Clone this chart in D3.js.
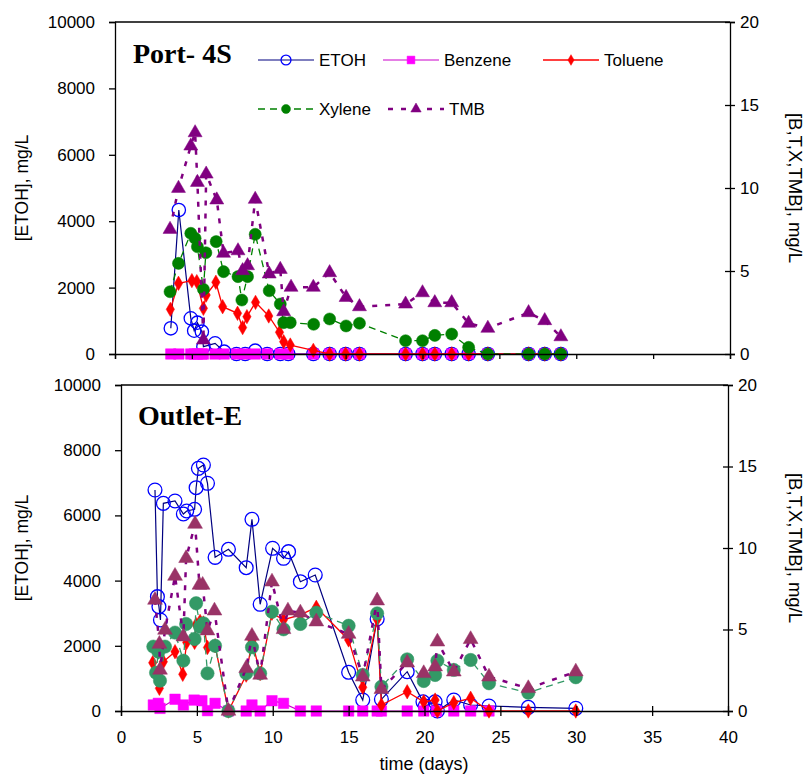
<!DOCTYPE html>
<html>
<head>
<meta charset="utf-8">
<script src="https://cdn.jsdelivr.net/npm/d3@7"></script>
<style>
  body { margin: 0; background: #fff; }
  svg { display: block; }
</style>
</head>
<body>
<div id="chart"></div>
<script>
// Sampling data: [day, value]
// ETOH in mg/L (left axis), the rest in mg/L on the right axis.
var topEtoh = [[3.63, 774], [4.15, 4337], [4.93, 1075], [5.15, 702], [5.36, 943], [5.65, 672],
    [5.75, 220], [6.51, 322], [7.1, 70], [7.9, 0], [8.47, 0], [9.12, 100], [9.9, 0], [10.75, 0],
    [11.27, 0], [12.9, 0], [13.96, 0], [15.0, 0], [15.9, 0], [18.9, 0], [20.0, 0], [20.8, 0],
    [21.9, 0], [23.0, 0], [24.25, 0], [26.9, 0], [27.95, 0], [29.0, 0]];
var topBenzene = [[3.63, 0], [4.15, 0], [4.93, 0], [5.15, 0], [5.36, 0], [5.65, 0], [5.75, 0],
    [6.51, 0], [7.1, 0], [7.9, 0], [8.47, 0], [9.12, 0], [9.9, 0], [10.75, 0], [11.27, 0],
    [12.9, 0], [13.96, 0], [15.0, 0], [15.9, 0], [18.9, 0], [20.0, 0], [20.8, 0], [21.9, 0],
    [23.0, 0], [24.25, 0], [26.9, 0], [27.95, 0], [29.0, 0]];
var topToluene = [[3.6, 2.69], [4.13, 4.26], [5.0, 4.42], [5.32, 4.36], [5.75, 2.75], [5.93, 3.55],
    [6.56, 4.32], [7.0, 2.85], [7.97, 2.45], [8.3, 1.59], [8.58, 2.25], [9.14, 3.11], [10.0, 2.29],
    [10.7, 1.31], [10.97, 0.74], [11.4, 0.54], [12.9, 0.22], [13.96, 0], [15.0, 0], [15.9, 0],
    [18.9, 0], [20.0, 0], [20.8, 0], [21.9, 0], [23.0, 0], [24.25, 0], [26.9, 0], [27.95, 0], [29.0, 0]];
var topXylene = [[3.58, 3.75], [4.13, 5.46], [4.93, 7.27], [5.21, 6.97], [5.36, 6.46], [5.75, 3.9],
    [5.91, 6.1], [6.58, 6.77], [7.06, 4.96], [8.0, 4.66], [8.25, 3.25], [8.62, 4.66], [9.12, 7.21],
    [10.03, 3.81], [10.75, 3.01], [10.97, 1.89], [11.4, 1.89], [12.92, 1.79], [13.96, 2.11],
    [15.03, 1.69], [15.9, 1.85], [18.9, 0.8], [20.0, 0.8], [20.8, 1.12], [21.9, 1.2], [23.0, 0.4],
    [24.25, 0], [26.9, 0], [27.95, 0], [29.0, 0]];
var topTmb = [[3.58, 7.51], [4.13, 9.98], [4.93, 12.53], [5.21, 13.33], [5.36, 10.34], [5.75, 0.84],
    [5.93, 10.84], [6.62, 9.28], [7.06, 6.07], [8.0, 6.22], [8.3, 5.02], [8.62, 5.32], [9.12, 9.32],
    [10.03, 4.82], [10.75, 5.1], [10.97, 2.55], [11.45, 4.02], [12.9, 4.02], [13.96, 4.9],
    [15.03, 3.41], [15.9, 2.85], [18.9, 3.01], [20.0, 3.69], [20.8, 3.09], [21.9, 3.09],
    [23.0, 1.85], [24.25, 1.55], [26.9, 2.49], [27.95, 2.01], [29.0, 1.04]];

var botEtoh = [[2.24, 6779], [2.4, 3507], [2.5, 3200], [2.6, 2791], [2.79, 6370], [3.56, 6442],
    [4.11, 6043], [4.33, 6135], [4.85, 6187], [4.95, 6850], [5.1, 7444], [5.43, 7546], [5.7, 6985],
    [6.2, 4714], [7.08, 4960], [8.25, 4396], [8.63, 5880], [9.17, 3273], [9.99, 4991], [10.71, 4684],
    [11.04, 4887], [11.82, 3966], [12.8, 4172], [15.0, 1187], [15.93, 337], [16.88, 2822],
    [17.16, 359], [18.86, 1206], [19.9, 280], [20.05, 150], [20.7, 280], [20.85, 0], [21.93, 337],
    [23.04, 184], [24.25, 153], [26.84, 113], [29.97, 83]];
var botBenzene = [[2.13, 0.37], [2.46, 0.47], [2.57, 0.16], [3.56, 0.72], [4.11, 0.37], [4.82, 0.67],
    [5.33, 0.63], [5.7, 0.02], [6.2, 0.47], [7.08, 0], [8.25, 0], [8.63, 0.37], [9.17, 0],
    [9.95, 0.63], [10.71, 0.47], [11.82, 0], [12.87, 0], [15.0, 0], [15.93, 0], [16.88, 0],
    [17.16, 0], [18.86, 0], [19.95, 0], [20.8, 0], [21.93, 0], [23.04, 0], [24.25, 0]];
var botToluene = [[2.09, 2.96], [2.53, 1.39], [2.79, 3.02], [3.56, 3.64], [4.07, 2.25], [4.33, 4.21],
    [4.85, 4.21], [4.95, 5.3], [5.21, 5.5], [5.43, 5.4], [5.7, 3.9], [6.2, 4.0], [7.08, 0],
    [8.25, 2.2], [8.63, 4.3], [9.17, 2.3], [9.95, 6.0], [10.71, 5.6], [11.82, 5.9], [12.87, 6.36],
    [15.0, 4.36], [15.93, 1.45], [16.88, 5.63], [17.16, 0.37], [18.86, 1.18], [19.95, 0.57],
    [20.7, 0.67], [20.85, 0], [21.93, 0.51], [23.04, 0.78], [24.25, 0], [26.84, 0], [29.97, 0]];
var botXylene = [[2.13, 3.95], [2.31, 2.35], [2.46, 3.64], [2.57, 1.86], [2.9, 3.95], [3.56, 4.81],
    [4.11, 3.09], [4.29, 5.34], [4.85, 4.42], [4.95, 6.61], [5.21, 5.17], [5.43, 5.38], [5.7, 2.31],
    [6.2, 4.0], [7.08, 0], [8.25, 2.31], [8.63, 3.91], [9.17, 2.31], [9.95, 6.09], [10.71, 5.01],
    [11.82, 5.34], [12.87, 6.03], [15.0, 5.23], [15.93, 2.21], [16.88, 5.99], [17.16, 1.49],
    [18.86, 3.17], [19.95, 1.84], [20.7, 2.21], [20.85, 3.09], [21.93, 2.52], [23.04, 3.13],
    [24.25, 1.7], [26.84, 1.12], [29.97, 2.07]];
var botTmb = [[2.24, 6.81], [2.53, 4.11], [2.57, 2.52], [2.9, 4.97], [3.56, 8.28], [4.11, 4.56],
    [4.29, 9.37], [4.88, 11.47], [5.17, 7.73], [5.38, 7.73], [5.7, 4.93], [6.16, 6.15], [7.08, 0],
    [8.25, 2.62], [8.63, 4.6], [9.17, 2.21], [9.95, 7.93], [10.71, 5.01], [11.0, 6.15],
    [11.82, 6.03], [12.87, 5.48], [15.0, 4.72], [15.93, 2.1], [16.88, 6.77], [17.16, 1.33],
    [18.86, 2.96], [19.95, 2.31], [20.7, 2.72], [20.85, 4.25], [21.93, 2.41], [23.04, 4.4],
    [24.25, 2.1], [26.84, 1.39], [29.97, 2.41]];

// Axis ticks
var dayTicks = [0, 5, 10, 15, 20, 25, 30, 35, 40],
    etohTicks = [0, 2000, 4000, 6000, 8000, 10000],
    btxTicks = [0, 5, 10, 15, 20];

var w = 807, h = 774,
    sans = "Liberation Sans, Arial, Helvetica, sans-serif",
    serif = "Liberation Serif, Times New Roman, serif";

var svg = d3.select("#chart").append("svg")
    .attr("width", w)
    .attr("height", h);

// Marker drawing helper, keyed by shape name
function marker(sel, shape, size, color, fill) {
    var sym = {
        circle: d3.symbolCircle,
        square: d3.symbolSquare,
        diamond: d3.symbolDiamond,
        triangle: d3.symbolTriangle
    }[shape];
    sel.attr("d", d3.symbol().type(sym).size(size))
        .attr("fill", fill)
        .attr("stroke", color)
        .attr("stroke-width", shape == "circle" && fill == "none" ? 1.3 : 0.5);
}

function panel(o) {
    var g = svg.append("g");
    var x = d3.scaleLinear().domain([0, 40]).range([o.left, o.right]);
    var yL = d3.scaleLinear().domain([0, 10000]).range([o.bottom, o.top]);
    var yR = d3.scaleLinear().domain([0, 20]).range([o.bottom, o.top]);

    // top border
    g.append("line")
        .attr("x1", o.left).attr("x2", o.right)
        .attr("y1", o.top).attr("y2", o.top)
        .attr("stroke", "#000").attr("stroke-width", 1.3);

    // series, in legend order
    o.series.forEach(function (s) {
        var y = s.axis == "left" ? yL : yR;
        var line = d3.line()
            .x(function (d) { return x(d[0]); })
            .y(function (d) { return y(d[1]); });
        g.append("path")
            .datum(s.data)
            .attr("d", line)
            .attr("fill", "none")
            .attr("stroke", s.line)
            .attr("stroke-width", s.width)
            .attr("stroke-dasharray", s.dash || null);
        g.selectAll(null)
            .data(s.data)
            .enter()
            .append("path")
            .attr("transform", function (d) {
                return "translate(" + x(d[0]) + "," + y(d[1]) + ")";
            })
            .call(marker, s.shape, s.size, s.color, s.fill);
    });

    // left axis
    var gl = g.append("g")
        .attr("transform", "translate(" + o.left + ",0)")
        .call(d3.axisLeft(yL).tickValues(etohTicks).tickSize(6).tickPadding(14).tickFormat(d3.format("d")));
    // right axis, ticks crossing the line
    var gr = g.append("g")
        .attr("transform", "translate(" + o.right + ",0)")
        .call(d3.axisRight(yR).tickValues(btxTicks).tickSize(5).tickPadding(5));
    gr.selectAll(".tick line").attr("x1", -5);
    // x axis
    var gx = g.append("g")
        .attr("transform", "translate(0," + o.bottom + ")")
        .call(d3.axisBottom(x).tickValues(dayTicks).tickSize(5).tickPadding(15));
    if (o.xLabels) {
        gx.selectAll(".tick line").attr("y1", -5);
    } else {
        gx.selectAll(".tick text").remove();
    }

    [gl, gr, gx].forEach(function (a) {
        a.selectAll("path, line").attr("stroke", "#000").attr("stroke-width", 1.3);
        a.selectAll("text").attr("font-family", sans).attr("font-size", 17).attr("fill", "#000");
    });

    var mid = (o.top + o.bottom) / 2;
    g.append("text")
        .attr("transform", "translate(28," + mid + ") rotate(-90)")
        .attr("text-anchor", "middle")
        .attr("font-family", sans).attr("font-size", 17.5)
        .text("[ETOH], mg/L");
    g.append("text")
        .attr("transform", "translate(789," + mid + ") rotate(90)")
        .attr("text-anchor", "middle")
        .attr("font-family", sans).attr("font-size", 18.5)
        .text("[B,T,X,TMB], mg/L");

    g.append("text")
        .attr("x", o.left + o.titleDx)
        .attr("y", o.top + o.titleDy)
        .attr("font-family", serif).attr("font-weight", "bold").attr("font-size", 28)
        .text(o.title);
    return x;
}

var topStyles = [
    { name: "ETOH", data: topEtoh, axis: "left", line: "#000080", width: 1.2, shape: "circle", size: 140, color: "#0000ff", fill: "none" },
    { name: "Benzene", data: topBenzene, axis: "right", line: "#cc00cc", width: 1.2, shape: "square", size: 110, color: "#ff00ff", fill: "#ff00ff" },
    { name: "Toluene", data: topToluene, axis: "right", line: "#ff0000", width: 1.3, shape: "diamond", size: 60, color: "#ff0000", fill: "#ff0000" },
    { name: "Xylene", data: topXylene, axis: "right", line: "#008000", width: 1.3, dash: "7,5", shape: "circle", size: 115, color: "#008000", fill: "#008000" },
    { name: "TMB", data: topTmb, axis: "right", line: "#800080", width: 2.5, dash: "5,8", shape: "triangle", size: 85, color: "#800080", fill: "#800080" }
];

var botStyles = [
    { data: botEtoh, axis: "left", line: "#000080", width: 1.2, shape: "circle", size: 150, color: "#0000ff", fill: "none" },
    { data: botBenzene, axis: "right", line: "#cc00cc", width: 1.2, shape: "square", size: 110, color: "#ff00ff", fill: "#ff00ff" },
    { data: botToluene, axis: "right", line: "#ff0000", width: 1.3, shape: "diamond", size: 60, color: "#ff0000", fill: "#ff0000" },
    { data: botXylene, axis: "right", line: "#339966", width: 1.3, dash: "7,5", shape: "circle", size: 140, color: "#339966", fill: "#339966" },
    { data: botTmb, axis: "right", line: "#800080", width: 2.5, dash: "5,8", shape: "triangle", size: 95, color: "#993366", fill: "#993366" }
];

panel({ left: 115, right: 730, top: 22, bottom: 354, title: "Port- 4S", titleDx: 18, titleDy: 41, xLabels: false, series: topStyles });
panel({ left: 121, right: 728, top: 385, bottom: 711, title: "Outlet-E", titleDx: 17, titleDy: 40, xLabels: true, series: botStyles });

svg.append("text")
    .attr("x", 424).attr("y", 770)
    .attr("text-anchor", "middle")
    .attr("font-family", sans).attr("font-size", 18)
    .text("time (days)");

// Legend (top panel)
var legendPos = [[258, 60], [383, 60], [543, 60], [258, 109], [388, 109]];
topStyles.forEach(function (s, i) {
    var p = legendPos[i];
    var lg = svg.append("g").attr("transform", "translate(" + p[0] + "," + p[1] + ")");
    lg.append("line")
        .attr("x1", 0).attr("x2", 56)
        .attr("stroke", s.line)
        .attr("stroke-width", s.width)
        .attr("stroke-dasharray", s.dash || null);
    lg.append("path")
        .attr("transform", "translate(28,0)")
        .call(marker, s.shape, s.size * 0.55, s.color, s.fill);
    lg.append("text")
        .attr("x", 61).attr("y", 6)
        .attr("font-family", sans).attr("font-size", 17)
        .text(s.name);
});
</script>
</body>
</html>
